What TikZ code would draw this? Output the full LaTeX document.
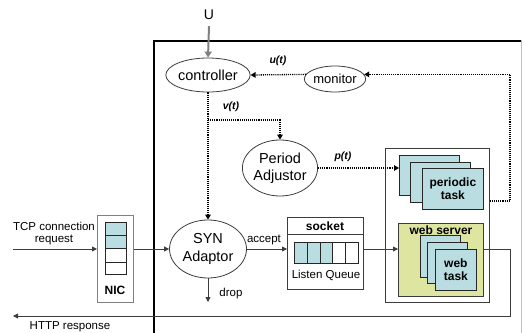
\documentclass[tikz,border=0pt]{standalone}
\usepackage{fontspec}
\setmainfont{Liberation Sans}
\usetikzlibrary{shapes.geometric,arrows.meta,calc}

\definecolor{taskblue}{RGB}{185,221,224}
\definecolor{srvyellow}{RGB}{221,229,160}
\definecolor{linegray}{RGB}{60,60,60}

\begin{document}
\begin{tikzpicture}[x=1pt,y=-1pt,
  every node/.style={inner sep=0pt, font=\fontsize{11.5}{12.5}\selectfont},
  oval/.style={ellipse, draw=linegray, line width=0.8pt, fill=white, align=center,
    font=\fontsize{14.5}{17.5}\selectfont},
  box/.style={draw=linegray, line width=0.8pt, anchor=north west},
  card/.style={draw=black!85, line width=0.8pt, fill=taskblue, anchor=north west},
  cell/.style={draw=black!85, line width=0.8pt, anchor=north west},
  flow/.style={draw=linegray, line width=0.8pt, -{Triangle[length=5pt,width=5pt]}},
  ctl/.style={draw=black, line width=1.3pt, dash pattern=on 1.1pt off 1pt,
    -{Triangle[length=5pt,width=5.5pt]}},
  sig/.style={font=\bfseries\itshape\fontsize{10.5}{12}\selectfont},
  lbl/.style={font=\bfseries\fontsize{12}{13}\selectfont}
]
\useasboundingbox (0,0) rectangle (524,332);

% host frame
\draw[line width=2pt] (154,333) -- (154,41) -- (521,41);
\draw[black!25, line width=0.8pt] (521.5,40) -- (521.5,333);

% input reference
\node[font=\fontsize{14}{14}\selectfont] (u) at (209,15) {U};

% control loop
\node[oval, minimum width=80pt, minimum height=34pt] (ctrl) at (208,75) {controller};
\node[oval, minimum width=56pt, minimum height=26pt, font=\fontsize{13}{14}\selectfont] (mon) at (335,79) {monitor};
\node[oval, minimum width=68pt, minimum height=56pt] (adj) at (280,168) {Period\\Adjustor};
\node[oval, minimum width=77pt, minimum height=58pt] (syn) at (208,249) {SYN\\Adaptor};

\draw[gray, line width=2pt, -{Triangle[length=6pt,width=7pt]}] ([yshift=-6pt]u.south) -- (ctrl.north);

% task container
\node[box, minimum width=104pt, minimum height=154pt] (host) at (385,148) {};
\node[card, minimum width=60pt, minimum height=40pt] (pt1) at (399,155) {};
\node[card, minimum width=60pt, minimum height=40pt] (pt2) at (410,162) {};
\node[card, minimum width=61pt, minimum height=41pt, lbl, align=center] (pt3) at (422,168) {periodic\\task};

\node[box, fill=srvyellow, minimum width=85pt, minimum height=73pt] (web) at (398,223) {};
\node[lbl] (weblbl) at (441,230) {web server};
\node[card, minimum width=40pt, minimum height=42pt] (wt1) at (420,235) {};
\node[card, minimum width=40pt, minimum height=41pt] (wt2) at (427,242) {};
\node[card, minimum width=41pt, minimum height=41pt, lbl, align=center] (wt3) at (435,249) {web\\task};

% socket with listen queue
\node[box, minimum width=76pt, minimum height=72pt] (sock) at (287,217) {};
\draw[linegray, line width=0.8pt] (287,234) -- (363,234);
\node[lbl] (socklbl) at (325,226) {socket};
\foreach \i/\c in {0/taskblue,1/taskblue,2/taskblue,3/white,4/white}
  \node[cell, fill=\c, minimum width=12.8pt, minimum height=21pt] (q\i) at ({294+12.8*\i},242) {};
\node (lq) at (326,275) {Listen Queue};

% network interface
\node[draw=gray, line width=1pt, fill=white, anchor=north west, minimum width=36pt, minimum height=87pt] (nic) at (97,215) {};
\foreach \i/\c/\h in {0/taskblue/13.3,1/taskblue/13.3,2/white/14,3/white/12.7}
  \node[cell, fill=\c, minimum width=21pt, minimum height=\h pt] (n\i) at (105,{221.7+13.3*\i}) {};
\node[lbl] (niclbl) at (115,290) {NIC};

% data path
\node[align=center] (tcp) at (54,233.5) {TCP connection\\request};
\coordinate (tcpin) at (13,249);
\draw[flow] (tcpin) -- (tcpin -| nic.west);
\draw[flow] (nic.east |- tcpin) -- (syn.west);
\draw[flow] (syn.east) -- (syn.east -| sock.west);
\node (acc) at (264,240) {accept};
\draw[flow] (sock.east |- syn.east) -- (web.west |- syn.east);
\coordinate (dropend) at (208,302);
\draw[flow] (syn.south) -- (dropend);
\node (drop) at (231,294) {drop};
\coordinate (ret1) at (510,249);
\coordinate (ret2) at (510,316);
\coordinate (retend) at (13,316);
\draw[flow] (web.east |- syn.east) -- (ret1) -- (ret2) -- (retend);
\node (http) at (70,326.5) {HTTP response};

% control signals
\draw[ctl] (ctrl.south) -- (syn.north);
\coordinate (vb) at (208,120);
\draw[ctl] (vb) -| (adj.north);
\node[sig] (vt) at (231,107) {v(t)};
\draw[ctl] (mon.171) -- (ctrl.east);
\node[sig] (ut) at (278,61) {u(t)};
\draw[ctl] (adj.east) -- (adj.east -| pt1.west);
\node[sig] (ptl) at (343,157) {p(t)};
\coordinate (fb) at (510,201);
\draw[ctl] (host.east |- fb) -- (fb) |- (mon.9);
\end{tikzpicture}
\end{document}
